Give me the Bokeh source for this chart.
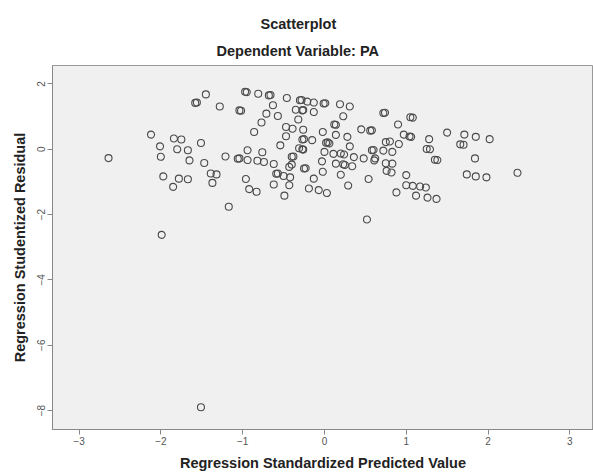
from bokeh.plotting import figure
from bokeh.models import Range1d, FixedTicker, Title
from bokeh.embed import file_html
from bokeh.resources import INLINE

# Regression Standardized Predicted Value
pred = [-2.64, -2.12, -2.01, -2.00, -1.84, -1.75, -1.80, -1.67, -1.65, -1.51,
        -1.97, -1.78, -1.67, -1.85, -1.47, -1.39, -1.32, -1.37, -1.21, -1.17,
        -1.99, -1.51, -1.58, -1.56, -1.45, -1.28, -1.04, -1.02, -0.97, -0.95,
        -0.81, -0.68, -0.66, -0.63, -0.46, -0.57, -0.71, -0.77, -0.86, -0.94,
        -1.06, -1.04, -0.94, -0.82, -0.76, -0.74, -0.62, -0.96, -0.92, -0.83,
        -0.62, -0.49, -0.59, -0.57, -0.50, -0.43, -0.42, -0.54, -0.47, -0.47,
        -0.39, -0.32, -0.35, -0.27, -0.26, -0.30, -0.28, -0.21, -0.26, -0.27,
        -0.25, -0.27, -0.26, -0.40, -0.38, -0.43, -0.40, -0.25, -0.23, -0.31,
        -0.19, -0.13, -0.13, -0.15, -0.01, 0.01, 0.19, 0.31, 0.23, 0.12,
        0.14, 0.72, 0.74, 1.05, 1.08, 0.90, 0.45, 0.56, 0.58, -0.02,
        0.14, 0.28, 0.97, 1.04, 1.06, 1.28, 1.50, 1.71, 1.85, 2.02,
        1.66, 1.70, 1.25, 1.29, 1.35, 1.38, 1.84, 2.36, 1.74, 1.85,
        1.98, 0.02, 0.04, 0.06, 0.31, 0.00, 0.11, 0.20, 0.24, 0.36,
        0.48, 0.62, 0.58, 0.60, 0.75, 0.80, 0.91, 0.72, 0.83, 0.61,
        0.75, 0.83, 0.23, 0.25, 0.14, 0.34, -0.03, -0.02, 0.20, 0.76,
        0.82, 1.00, -0.13, 0.54, 1.00, 1.08, 1.17, 1.24, 0.29, -0.07,
        0.03, 0.88, 1.12, 1.26, 1.37, 0.52]

# Regression Studentized Residual
resid = [-0.27, 0.45, 0.09, -0.23, 0.33, 0.30, 0.00, -0.03, -0.34, 0.19,
         -0.83, -0.90, -0.92, -1.15, -0.42, -0.74, -0.77, -1.03, -0.22, -1.76,
         -2.62, -7.90, 1.42, 1.43, 1.68, 1.31, 1.19, 1.18, 1.76, 1.75,
         1.70, 1.65, 1.66, 1.35, 1.57, 1.02, 1.09, 0.82, 0.53, -0.03,
         -0.29, -0.28, -0.33, -0.35, -0.09, -0.39, -0.45, -0.91, -1.22, -1.30,
         -1.08, -1.42, -0.75, -0.74, -0.82, -1.10, -0.86, 0.12, 0.40, 0.68,
         0.63, 0.91, 1.21, 1.19, 1.20, 1.50, 1.51, 1.46, 0.60, 0.30,
         0.31, 0.00, -0.01, -0.23, -0.22, -0.54, -0.47, -0.59, -0.58, 0.03,
         -1.20, 1.43, 1.14, 0.28, 1.40, 1.41, 1.38, 1.31, 1.01, 0.76,
         0.75, 1.11, 1.12, 0.98, 0.97, 0.76, 0.61, 0.57, 0.58, 0.53,
         0.44, 0.38, 0.45, 0.39, 0.38, 0.31, 0.51, 0.45, 0.38, 0.31,
         0.15, 0.14, 0.01, 0.00, -0.32, -0.33, -0.28, -0.72, -0.77, -0.83,
         -0.86, 0.20, 0.21, 0.18, 0.09, -0.08, -0.14, -0.13, -0.16, -0.24,
         -0.28, -0.28, -0.03, -0.02, 0.22, 0.24, 0.16, -0.04, -0.08, -0.34,
         -0.43, -0.44, -0.46, -0.48, -0.44, -0.52, -0.37, -0.69, -0.78, -0.66,
         -0.71, -0.79, -0.90, -0.91, -1.10, -1.12, -1.14, -1.17, -1.11, -1.25,
         -1.34, -1.32, -1.42, -1.48, -1.52, -2.15]

x_ticks = [-3, -2, -1, 0, 1, 2, 3]
y_ticks = [2, 0, -2, -4, -6, -8]

FONT = "Liberation Sans"

p = figure(width=593, height=473, output_backend="svg", toolbar_location=None,
           title=None,
           x_range=Range1d(-3.325, 3.289), y_range=Range1d(-8.58, 2.565),
           min_border_left=52, min_border_right=0, min_border_top=65,
           min_border_bottom=43)

p.background_fill_color = "#f0f0f0"
p.border_fill_color = "white"
p.outline_line_color = "#999999"
p.grid.visible = False

sub = Title(text="Dependent Variable: PA", align="left", offset=164,
            standoff=13,
            text_font=FONT, text_font_size="14.5px", text_font_style="bold",
            text_color="#222222")
main = Title(text="Scatterplot", align="left", offset=208,
             standoff=6,
             text_font=FONT, text_font_size="14.5px", text_font_style="bold",
             text_color="#222222")
p.add_layout(sub, "above")
p.add_layout(main, "above")

for ax in (p.xaxis[0], p.yaxis[0]):
    ax.axis_line_color = "#888888"
    ax.major_tick_line_color = "#888888"
    ax.major_tick_in = 0
    ax.major_tick_out = 5
    ax.minor_tick_out = 0
    ax.minor_tick_in = 0
    ax.major_label_text_font = FONT
    ax.major_label_text_font_size = "10px"
    ax.major_label_text_color = "#555555"
    ax.major_label_standoff = 2
    ax.axis_label_text_font = FONT
    ax.axis_label_text_font_size = "14.5px"
    ax.axis_label_text_font_style = "bold"
    ax.axis_label_text_color = "#222222"
    ax.axis_label_standoff = 7

p.xaxis.ticker = FixedTicker(ticks=x_ticks)
p.yaxis.ticker = FixedTicker(ticks=y_ticks)
p.xaxis.axis_label = "Regression Standardized Predicted Value"
p.yaxis.axis_label = "Regression Studentized Residual"
p.yaxis.major_label_orientation = "vertical"

p.scatter(pred, resid, marker="circle", size=7, fill_color=None,
          line_color="#4a4a4a", line_width=1.1)

open("out.html", "w").write(file_html(p, INLINE))
